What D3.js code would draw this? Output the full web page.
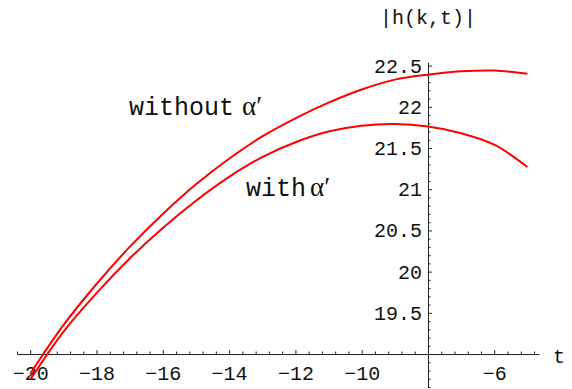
<!DOCTYPE html>
<html>
<head>
<meta charset="utf-8">
<script src="https://cdn.jsdelivr.net/npm/d3@7"></script>
<style>
  html, body { margin: 0; padding: 0; background: #fff; }
  svg { display: block; }
  .tick text { font-family: "Liberation Mono", "DejaVu Sans Mono", monospace; font-size: 20px; fill: #111; }
</style>
</head>
<body>
<svg id="chart" width="572" height="389"></svg>
<script>
// ---- data ----
const tValues = [-20, -19, -18, -17, -16, -15, -14, -13, -12, -11, -10, -9, -8, -7, -6, -5];
const withoutAlpha = [18.76, 19.35, 19.85, 20.30, 20.70, 21.06, 21.37, 21.64, 21.86, 22.05, 22.21, 22.33, 22.39, 22.43, 22.44, 22.40];
const withAlpha    = [18.69, 19.27, 19.74, 20.16, 20.53, 20.86, 21.15, 21.39, 21.57, 21.70, 21.77, 21.79, 21.76, 21.68, 21.54, 21.27];
const xTickLabels = [-20, -18, -16, -14, -12, -10, -6];
const yTickLabels = [19.5, 20, 20.5, 21, 21.5, 22, 22.5];
const xMinorStep = 0.4;
const yMinorStep = 0.1;
const seriesNames = ["without", "with"];

// ---- layout ----
const xDomain = [-20.4, -4.65];
const yDomain = [18.6, 22.54];
const xOrigin = -8, yOrigin = 19;
const yClipMin = 18.69;

const svg = d3.select("#chart");
const x = d3.scaleLinear().domain(xDomain).range([17, 539]);
const y = d3.scaleLinear().domain(yDomain).range([387, 62.3]);

const monoFont = '"Liberation Mono", "DejaVu Sans Mono", monospace';
const axisColor = "#222";

// clip
svg.append("defs").append("clipPath").attr("id", "plotclip")
  .append("rect")
  .attr("x", x(xDomain[0])).attr("y", y(yDomain[1]))
  .attr("width", x(xDomain[1]) - x(xDomain[0]))
  .attr("height", y(yClipMin) - y(yDomain[1]));

// x axis
const xMinor = d3.range(Math.round(xDomain[0] / xMinorStep), Math.floor(xDomain[1] / xMinorStep) + 1)
  .map(k => +(k * xMinorStep).toFixed(2))
  .filter(v => !xTickLabels.includes(v) && v !== xOrigin);
const gx = svg.append("g").attr("transform", `translate(0,${y(yOrigin)})`);
gx.call(d3.axisBottom(x).tickValues(xTickLabels.concat([xOrigin])).tickSizeInner(-4).tickSizeOuter(0).tickPadding(12)
  .tickFormat(d => d === xOrigin ? "" : (d < 0 ? "\u2212" + Math.abs(d) : String(d))));
const gxMinor = svg.append("g").attr("transform", `translate(0,${y(yOrigin)})`);
gxMinor.call(d3.axisBottom(x).tickValues(xMinor).tickSizeInner(-2.5).tickSizeOuter(0).tickFormat(""));
gxMinor.select(".domain").remove();

// y axis
const yMinor = d3.range(Math.round(yDomain[0] / yMinorStep), Math.floor(yDomain[1] / yMinorStep) + 1)
  .map(k => +(k * yMinorStep).toFixed(2))
  .filter(v => !yTickLabels.includes(v));
const gy = svg.append("g").attr("transform", `translate(${x(xOrigin)},0)`);
gy.call(d3.axisLeft(y).tickValues(yTickLabels).tickSizeInner(-4).tickSizeOuter(0).tickPadding(6)
  .tickFormat(d => String(d)));
const gyMinor = svg.append("g").attr("transform", `translate(${x(xOrigin)},0)`);
gyMinor.call(d3.axisLeft(y).tickValues(yMinor).tickSizeInner(-2.5).tickSizeOuter(0).tickFormat(""));
gyMinor.select(".domain").remove();

svg.selectAll(".domain, .tick line").attr("stroke", axisColor).attr("stroke-width", 1);

// curves
const line = d3.line()
  .x((d, i) => x(tValues[i]))
  .y(d => y(d))
  .curve(d3.curveCatmullRom.alpha(0.5));
const plot = svg.append("g").attr("clip-path", "url(#plotclip)");
[withoutAlpha, withAlpha].forEach((s, i) => {
  plot.append("path")
    .datum(s)
    .attr("class", "series " + seriesNames[i])
    .attr("fill", "none")
    .attr("stroke", "#ff0000")
    .attr("stroke-width", 2)
    .attr("d", line);
});

// labels
svg.append("text").attr("x", 380).attr("y", 24)
  .attr("font-family", monoFont).attr("font-size", 20).attr("fill", "#111")
  .text("|h(k,t)|");
svg.append("text").attr("x", 553).attr("y", 363)
  .attr("font-family", monoFont).attr("font-size", 20).attr("fill", "#111")
  .text("t");

function annot(xp, yp, word, gap) {
  const t = svg.append("text").attr("x", xp).attr("y", yp).attr("fill", "#111");
  t.append("tspan").attr("font-family", monoFont).attr("font-size", 25).text(word);
  t.append("tspan").attr("dx", gap).attr("font-family", '"Liberation Serif", "DejaVu Serif", serif')
    .attr("font-size", 27).text("\u03B1\u2032");
}
annot(129, 115, "without", 8);
annot(246, 196, "with", 4);
</script>
</body>
</html>
